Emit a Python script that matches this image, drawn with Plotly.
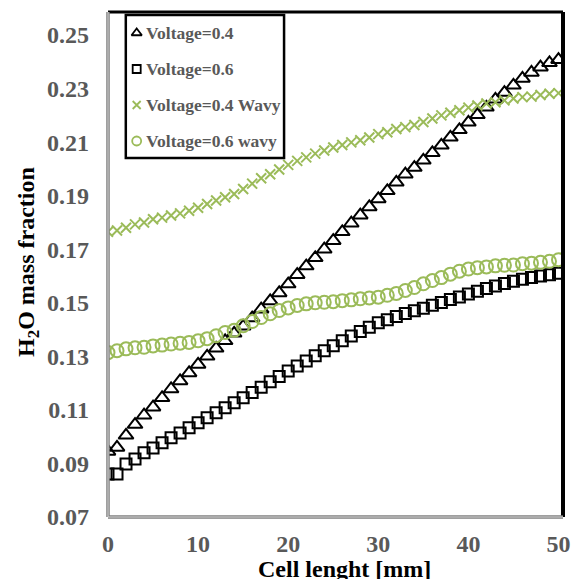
import plotly.graph_objects as go

x_mm = list(range(0, 51))

v04 = [0.0945, 0.0960, 0.1005, 0.1045, 0.1080, 0.1110, 0.1145, 0.1178, 0.1208, 0.1238,
       0.1270, 0.1300, 0.1330, 0.1358, 0.1386, 0.1412, 0.1443, 0.1476, 0.1507, 0.1537,
       0.1570, 0.1605, 0.1637, 0.1668, 0.1700, 0.1732, 0.1765, 0.1797, 0.1827, 0.1858,
       0.1888, 0.1918, 0.1950, 0.1980, 0.2005, 0.2032, 0.2060, 0.2088, 0.2118, 0.2146,
       0.2174, 0.2202, 0.2230, 0.2260, 0.2285, 0.2312, 0.2338, 0.2360, 0.2380, 0.2396,
       0.2408]

v06 = [0.0861, 0.0861, 0.0898, 0.0917, 0.0940, 0.0958, 0.0977, 0.0996, 0.1014, 0.1033,
       0.1052, 0.1071, 0.1089, 0.1108, 0.1127, 0.1145, 0.1165, 0.1185, 0.1205, 0.1225,
       0.1245, 0.1264, 0.1283, 0.1302, 0.1321, 0.1340, 0.1358, 0.1376, 0.1393, 0.1409,
       0.1425, 0.1437, 0.1449, 0.1460, 0.1470, 0.1480, 0.1491, 0.1501, 0.1512, 0.1522,
       0.1533, 0.1543, 0.1553, 0.1563, 0.1572, 0.1580, 0.1588, 0.1594, 0.1600, 0.1605,
       0.1610]

v04_wavy = [0.1765, 0.1770, 0.1780, 0.1793, 0.1800, 0.1812, 0.1818, 0.1826, 0.1834, 0.1844,
            0.1855, 0.1869, 0.1882, 0.1894, 0.1906, 0.1925, 0.1945, 0.1965, 0.1980, 0.1998,
            0.2015, 0.2030, 0.2043, 0.2057, 0.2069, 0.2080, 0.2089, 0.2099, 0.2107, 0.2117,
            0.2130, 0.2137, 0.2149, 0.2156, 0.2164, 0.2175, 0.2188, 0.2200, 0.2210, 0.2219,
            0.2229, 0.2237, 0.2244, 0.2249, 0.2256, 0.2263, 0.2268, 0.2270, 0.2276, 0.2281,
            0.2283]

v06_wavy = [0.1314, 0.1321, 0.1328, 0.1332, 0.1334, 0.1339, 0.1342, 0.1346, 0.1349, 0.1352,
            0.1358, 0.1366, 0.1377, 0.1389, 0.1397, 0.1414, 0.1430, 0.1445, 0.1459, 0.1471,
            0.1481, 0.1490, 0.1496, 0.1500, 0.1502, 0.1504, 0.1508, 0.1511, 0.1515, 0.1518,
            0.1521, 0.1528, 0.1535, 0.1546, 0.1557, 0.1571, 0.1583, 0.1594, 0.1607, 0.1618,
            0.1626, 0.1631, 0.1634, 0.1638, 0.1640, 0.1641, 0.1646, 0.1648, 0.1651, 0.1655,
            0.1661]

y_ticks = [0.07, 0.09, 0.11, 0.13, 0.15, 0.17, 0.19, 0.21, 0.23, 0.25]
x_ticks = [0, 10, 20, 30, 40, 50]

legend_names = ["Voltage=0.4", "Voltage=0.6", "Voltage=0.4 Wavy", "Voltage=0.6 wavy"]

GREEN = "#9BBB59"
GRAY_TXT = "#595959"
FONT = "Liberation Serif"

series = [
    (v04, "triangle-up-open", "black", 13, 2.0, 9),
    (v06, "square-open", "black", 11, 2.0, 8),
    (v04_wavy, "x-thin-open", GREEN, 10, 2.0, 8),
    (v06_wavy, "circle-open", GREEN, 13, 2.0, 9),
]

fig = go.Figure()
for (vals, sym, col, sz, lw, lsz), name in zip(series, legend_names):
    fig.add_trace(go.Scatter(
        x=x_mm, y=vals, mode="markers", name=name, showlegend=False,
        marker=dict(symbol=sym, size=sz, color=col, line=dict(color=col, width=lw)),
    ))

# --- manual legend (paper-like overlay axes) ---
W, H = 582, 579
L, R, T, B = 108, 14, 12, 62
pw, ph = W - L - R, H - T - B

def px2x(px):
    return (px - L) / pw

def py2y(py):
    return (H - B - py) / ph

leg_y_px = [33, 69, 105, 141]
leg_sym_x_px = 137
leg_txt_x_px = 144
for (vals, sym, col, sz, lw, lsz), name, ly in zip(series, legend_names, leg_y_px):
    fig.add_trace(go.Scatter(
        x=[px2x(leg_sym_x_px)], y=[py2y(ly)], mode="markers", showlegend=False,
        xaxis="x2", yaxis="y2", hoverinfo="skip",
        marker=dict(symbol=sym, size=lsz, color=col, line=dict(color=col, width=1.8)),
    ))
    fig.add_annotation(
        x=px2x(leg_txt_x_px), y=py2y(ly), xref="paper", yref="paper",
        text=name, showarrow=False, xanchor="left", yanchor="middle",
        font=dict(family=FONT, size=17.5, color=GRAY_TXT, weight="bold"),
    )

shapes = [
    # legend box
    dict(type="rect", xref="paper", yref="paper",
         x0=px2x(126), x1=px2x(286), y0=py2y(158), y1=py2y(15),
         line=dict(color="black", width=2.5), fillcolor="rgba(0,0,0,0)", layer="above"),
    # frame: top & right black, left & bottom gray double
    dict(type="line", xref="paper", yref="paper", x0=0, x1=1, y0=1, y1=1,
         line=dict(color="black", width=3), layer="above"),
    dict(type="line", xref="paper", yref="paper", x0=1, x1=1, y0=0, y1=1,
         line=dict(color="black", width=4), layer="above"),
    dict(type="line", xref="paper", yref="paper", x0=0, x1=0, y0=0, y1=1,
         line=dict(color="#7f7f7f", width=3.5), layer="above"),
    dict(type="line", xref="paper", yref="paper", x0=0, x1=1, y0=0, y1=0,
         line=dict(color="#7f7f7f", width=3.5), layer="above"),
    dict(type="line", xref="paper", yref="paper", x0=0, x1=0, y0=0, y1=1,
         line=dict(color="#d9d9d9", width=1), layer="above"),
    dict(type="line", xref="paper", yref="paper", x0=0, x1=1, y0=0, y1=0,
         line=dict(color="#d9d9d9", width=1), layer="above"),
]

fig.add_annotation(
    x=px2x(347), y=py2y(569), xref="paper", yref="paper", text="Cell lenght [mm]",
    showarrow=False, xanchor="center", yanchor="middle",
    font=dict(family=FONT, size=24, color="black", weight="bold"),
)
fig.add_annotation(
    x=px2x(27), y=py2y(262), xref="paper", yref="paper",
    text="H<sub>2</sub>O mass fraction", textangle=-90,
    showarrow=False, xanchor="center", yanchor="middle",
    font=dict(family=FONT, size=24, color="black", weight="bold"),
)

tick_font = dict(family=FONT, size=24, color=GRAY_TXT, weight="bold")
fig.update_layout(
    width=W, height=H,
    margin=dict(l=L, r=R, t=T, b=B, pad=0),
    paper_bgcolor="white", plot_bgcolor="white",
    showlegend=False,
    shapes=shapes,
    xaxis=dict(range=[0, 50.5], tickvals=x_ticks, ticktext=[str(v) for v in x_ticks],
               showgrid=False, zeroline=False, showline=False, ticks="",
               tickfont=tick_font, ticklabelstandoff=10, fixedrange=True),
    yaxis=dict(range=[0.07, 0.2586], tickvals=y_ticks, ticktext=[f"{v:.2f}" for v in y_ticks],
               showgrid=False, zeroline=False, showline=False, ticks="",
               tickfont=tick_font, ticklabelstandoff=18, fixedrange=True),
    xaxis2=dict(range=[0, 1], overlaying="x", visible=False, fixedrange=True),
    yaxis2=dict(range=[0, 1], overlaying="y", visible=False, fixedrange=True),
)

fig.write_html("out.html")
